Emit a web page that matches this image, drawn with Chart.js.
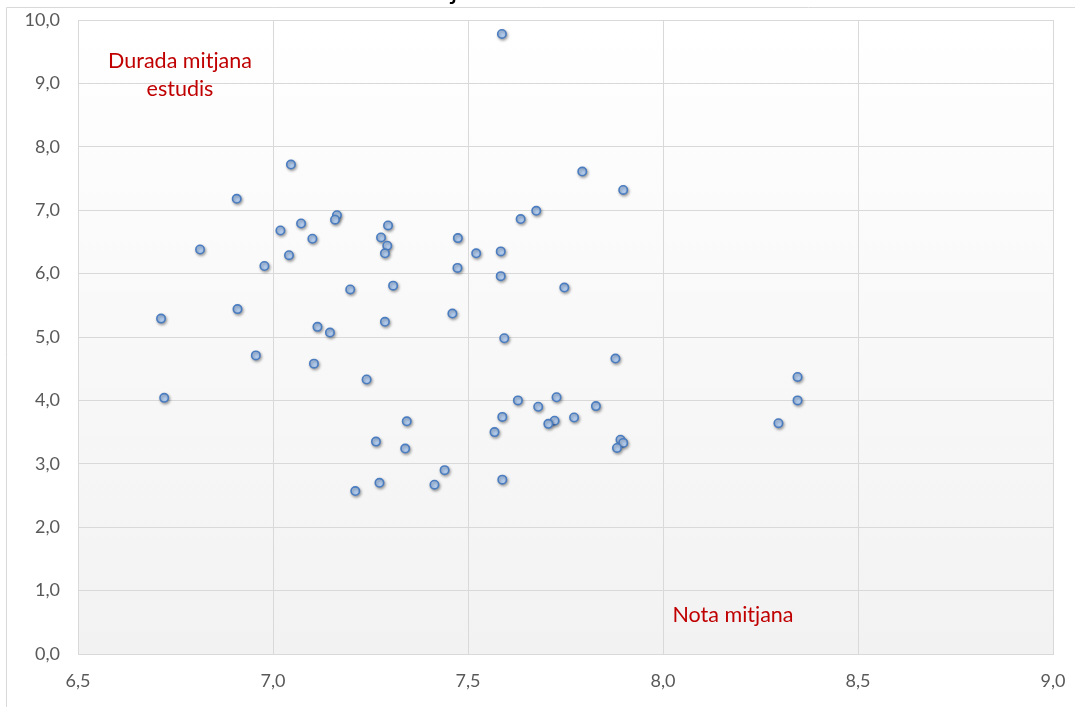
<!DOCTYPE html>
<html>
<head>
<meta charset="utf-8">
<script src="https://cdn.jsdelivr.net/npm/chart.js@4/dist/chart.umd.min.js"></script>
<style>
  html, body { margin: 0; padding: 0; background: #ffffff; }
  #wrap { width: 1075px; height: 707px; position: relative; }
</style>
</head>
<body>
<div id="wrap"><canvas id="scatterChart"></canvas></div>
<script>
// nota mitjana (x) i durada mitjana dels estudis (y)
const notaMitjana = [
  7.587, 7.046, 6.907, 7.164, 7.159, 7.072, 7.019, 7.101, 6.813, 7.041,
  6.978, 7.198, 6.909, 6.713, 7.793, 7.898, 7.675, 7.635, 7.295, 7.277,
  7.474, 7.293, 7.287, 7.521, 7.584, 7.473, 7.584, 7.308, 7.747, 7.460,
  7.287, 7.114, 7.146, 7.593, 6.956, 7.105, 7.878, 7.240, 6.721, 8.345,
  8.345, 7.628, 7.727, 7.680, 7.828, 7.588, 7.772, 7.722, 7.706, 7.343,
  8.296, 7.568, 7.264, 7.339, 7.891, 7.898, 7.882, 7.440, 7.273, 7.588,
  7.414, 7.211
];
const duradaMitjana = [
  9.78, 7.72, 7.18, 6.92, 6.85, 6.79, 6.68, 6.55, 6.38, 6.29,
  6.12, 5.75, 5.44, 5.29, 7.61, 7.32, 6.99, 6.86, 6.76, 6.57,
  6.56, 6.44, 6.32, 6.32, 6.35, 6.09, 5.96, 5.81, 5.78, 5.37,
  5.24, 5.16, 5.07, 4.98, 4.71, 4.58, 4.66, 4.33, 4.04, 4.37,
  4.00, 4.00, 4.05, 3.90, 3.91, 3.74, 3.73, 3.68, 3.63, 3.67,
  3.64, 3.50, 3.35, 3.24, 3.38, 3.33, 3.25, 2.90, 2.70, 2.75,
  2.67, 2.57
];
const xTicks = [6.5, 7.0, 7.5, 8.0, 8.5, 9.0];
const yTicks = [0, 1, 2, 3, 4, 5, 6, 7, 8, 9, 10];
const etiquetaY = ["Durada mitjana", "estudis"];
const etiquetaX = "Nota mitjana";

const punts = notaMitjana.map(function (x, i) {
    return { x: x, y: duradaMitjana[i] };
});

function coma(v) {
    return Number(v).toFixed(1).replace(".", ",");
}

// fons degradat, marc exterior i textos
const decoracio = {
    id: "decoracio",
    beforeDraw: function (chart) {
        const ctx = chart.ctx;
        const a = chart.chartArea;
        ctx.save();
        ctx.strokeStyle = "#d9d9d9";
        ctx.lineWidth = 1;
        ctx.beginPath();
        ctx.moveTo(6.5, 800);
        ctx.lineTo(6.5, 7.5);
        ctx.lineTo(1100, 7.5);
        ctx.stroke();
        let g = ctx.createLinearGradient(0, a.top, 0, a.bottom);
        g.addColorStop(0, "#ffffff");
        g.addColorStop(1, "#f2f2f2");
        ctx.fillStyle = g;
        ctx.fillRect(a.left, a.top, a.right - a.left, a.bottom - a.top);
        // resta del títol, tallat per dalt
        ctx.fillStyle = "#000000";
        ctx.font = "28px Lato";
        ctx.textAlign = "center";
        ctx.textBaseline = "alphabetic";
        ctx.fillText("j", 454, -1);
        ctx.restore();
    },
    afterDraw: function (chart) {
        const ctx = chart.ctx;
        const a = chart.chartArea;
        ctx.save();
        ctx.fillStyle = "#c00000";
        ctx.font = "21.5px Lato";
        ctx.textAlign = "center";
        ctx.textBaseline = "middle";
        ctx.fillText(etiquetaY[0], a.left + 102, a.top + 41);
        ctx.fillText(etiquetaY[1], a.left + 102, a.top + 69);
        ctx.fillText(etiquetaX, a.left + 655, a.top + 595);
        ctx.restore();
    },
    beforeDatasetDraw: function (chart) {
        const ctx = chart.ctx;
        ctx.save();
        ctx.shadowColor = "rgba(0,0,0,0.35)";
        ctx.shadowBlur = 3;
        ctx.shadowOffsetX = 1;
        ctx.shadowOffsetY = 1.5;
    },
    afterDatasetDraw: function (chart) {
        chart.ctx.restore();
    }
};

let ctx = document.getElementById("scatterChart").getContext("2d");
new Chart(ctx, {
    type: "scatter",
    data: {
        datasets: [{
            label: "Graus",
            data: punts,
            pointRadius: 4.2,
            pointHoverRadius: 4.2,
            pointBorderWidth: 1.6,
            pointBackgroundColor: "#b3cdef",
            pointBorderColor: "#4a7cc0"
        }]
    },
    options: {
        responsive: true,
        maintainAspectRatio: false,
        animation: false,
        events: [],
        layout: { padding: { left: 0, right: 22, top: 20, bottom: 0 } },
        plugins: {
            legend: { display: false },
            tooltip: { enabled: false }
        },
        scales: {
            x: {
                type: "linear",
                min: 6.5,
                max: 9.0,
                afterBuildTicks: function (axis) {
                    axis.ticks = xTicks.map(function (v) { return { value: v }; });
                },
                afterFit: function (axis) {
                    axis.height = 53;
                    axis.paddingLeft = 0;
                    axis.paddingRight = 0;
                },
                grid: { color: "#d9d9d9", lineWidth: 1, drawTicks: false },
                border: { display: true, color: "#d9d9d9" },
                ticks: {
                    padding: 16,
                    color: "#595959",
                    font: { family: "Lato", size: 18 },
                    callback: coma
                }
            },
            y: {
                type: "linear",
                min: 0,
                max: 10,
                afterBuildTicks: function (axis) {
                    axis.ticks = yTicks.map(function (v) { return { value: v }; });
                },
                afterFit: function (axis) {
                    axis.width = 78;
                    axis.paddingTop = 0;
                    axis.paddingBottom = 0;
                },
                grid: { color: "#d9d9d9", lineWidth: 1, drawTicks: false },
                border: { display: true, color: "#d9d9d9" },
                ticks: {
                    padding: 18,
                    color: "#595959",
                    font: { family: "Lato", size: 18 },
                    callback: coma
                }
            }
        }
    },
    plugins: [decoracio]
});
</script>
</body>
</html>
